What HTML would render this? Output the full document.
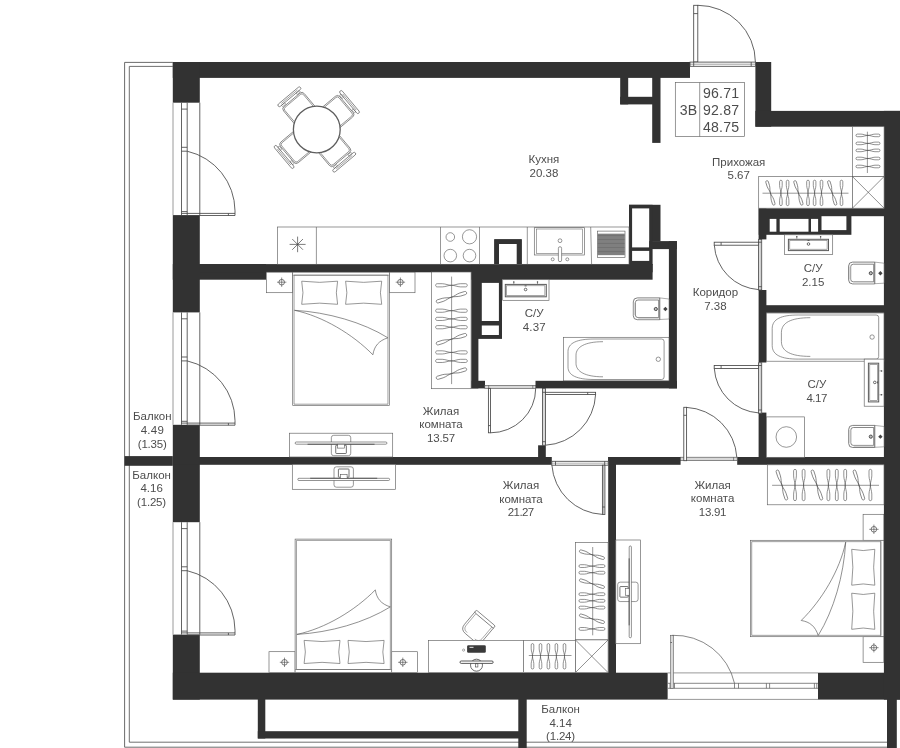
<!DOCTYPE html>
<html><head><meta charset="utf-8"><title>Plan</title>
<style>
html,body{margin:0;padding:0;background:#fff;}
svg{display:block;font-family:"Liberation Sans",sans-serif;filter:grayscale(1);}

</style></head><body>
<svg width="900" height="748" viewBox="0 0 900 748">
<rect x="0" y="0" width="900" height="748" fill="#fff"/>
<path d="M172.8,62.4 H124.6 V747.2 H887" fill="none" stroke="#5a5a5a" stroke-width="0.90" />
<path d="M172.8,66.4 H129.3 V742.2 H887" fill="none" stroke="#606060" stroke-width="0.90" />
<rect x="172.80" y="62.00" width="517.20" height="15.90" fill="#323232" />
<rect x="172.80" y="62.00" width="27.00" height="40.70" fill="#323232" />
<rect x="172.80" y="215.10" width="27.00" height="97.30" fill="#323232" />
<rect x="172.80" y="424.80" width="27.00" height="97.40" fill="#323232" />
<rect x="172.80" y="634.60" width="27.00" height="65.00" fill="#323232" />
<rect x="172.80" y="672.70" width="495.00" height="26.90" fill="#323232" />
<rect x="818.00" y="672.70" width="82.00" height="26.90" fill="#323232" />
<rect x="883.90" y="110.90" width="16.10" height="588.70" fill="#323232" />
<rect x="755.40" y="62.00" width="15.80" height="64.70" fill="#323232" />
<rect x="755.40" y="110.90" width="144.60" height="15.80" fill="#323232" />
<rect x="172.80" y="264.10" width="93.20" height="15.60" fill="#323232" />
<rect x="199.80" y="264.10" width="452.80" height="8.20" fill="#323232" />
<rect x="124.60" y="456.10" width="48.20" height="9.70" fill="#323232" />
<rect x="172.80" y="457.00" width="379.00" height="7.80" fill="#323232" />
<rect x="538.10" y="445.30" width="7.70" height="12.70" fill="#323232" />
<rect x="608.20" y="457.00" width="7.80" height="216.00" fill="#323232" />
<rect x="608.20" y="457.00" width="72.40" height="7.80" fill="#323232" />
<rect x="737.20" y="457.00" width="146.80" height="7.80" fill="#323232" />
<rect x="652.20" y="77.00" width="8.30" height="65.90" fill="#323232" />
<rect x="620.20" y="77.00" width="8.00" height="27.40" fill="#323232" />
<rect x="620.20" y="96.80" width="39.80" height="7.60" fill="#323232" />
<rect x="494.30" y="239.30" width="27.40" height="24.70" fill="#323232" />
<rect x="499.00" y="244.00" width="17.70" height="20.00" fill="#fff" />
<rect x="629.00" y="204.80" width="31.50" height="36.70" fill="#323232" />
<rect x="629.00" y="204.80" width="23.60" height="60.20" fill="#323232" />
<rect x="632.10" y="208.40" width="17.10" height="39.00" fill="#fff" />
<rect x="632.10" y="250.90" width="17.10" height="10.00" fill="#fff" />
<rect x="649.20" y="241.10" width="27.70" height="8.00" fill="#323232" />
<rect x="668.90" y="241.10" width="8.00" height="147.30" fill="#323232" />
<rect x="471.20" y="264.10" width="181.40" height="15.60" fill="#323232" />
<rect x="471.20" y="264.10" width="7.20" height="124.30" fill="#323232" />
<rect x="471.20" y="380.80" width="13.80" height="7.60" fill="#323232" />
<rect x="535.50" y="380.80" width="141.50" height="7.60" fill="#323232" />
<rect x="478.00" y="279.00" width="24.00" height="59.90" fill="#323232" />
<rect x="481.80" y="282.90" width="17.10" height="38.10" fill="#fff" />
<rect x="481.80" y="325.50" width="17.10" height="9.50" fill="#fff" />
<rect x="758.70" y="208.30" width="92.70" height="26.50" fill="#323232" />
<rect x="851.00" y="208.30" width="33.00" height="7.90" fill="#323232" />
<rect x="769.70" y="218.90" width="6.70" height="12.80" fill="#fff" />
<rect x="779.70" y="218.90" width="28.80" height="12.80" fill="#fff" />
<rect x="811.00" y="218.90" width="7.10" height="12.80" fill="#fff" />
<rect x="821.50" y="216.20" width="24.90" height="13.90" fill="#fff" />
<rect x="758.60" y="208.30" width="7.80" height="31.10" fill="#323232" />
<rect x="758.60" y="290.00" width="7.80" height="72.50" fill="#323232" />
<rect x="758.60" y="412.60" width="7.80" height="45.40" fill="#323232" />
<rect x="766.00" y="305.20" width="118.00" height="7.60" fill="#323232" />
<rect x="257.80" y="699.00" width="7.50" height="39.50" fill="#323232" />
<rect x="257.80" y="731.20" width="261.20" height="7.30" fill="#323232" />
<rect x="518.30" y="699.00" width="8.40" height="49.00" fill="#323232" />
<rect x="887.00" y="699.00" width="9.80" height="49.00" fill="#323232" />
<line x1="173.00" y1="102.70" x2="173.00" y2="215.10" stroke="#9a9a9a" stroke-width="1.00"/>
<line x1="199.80" y1="102.70" x2="199.80" y2="215.10" stroke="#484848" stroke-width="0.85"/>
<line x1="181.50" y1="102.70" x2="181.50" y2="215.10" stroke="#484848" stroke-width="0.85"/>
<line x1="187.20" y1="102.70" x2="187.20" y2="215.10" stroke="#484848" stroke-width="0.85"/>
<line x1="181.50" y1="109.10" x2="187.20" y2="109.10" stroke="#484848" stroke-width="0.85"/>
<line x1="181.50" y1="147.30" x2="187.20" y2="147.30" stroke="#484848" stroke-width="0.85"/>
<line x1="181.50" y1="151.20" x2="187.20" y2="151.20" stroke="#484848" stroke-width="0.85"/>
<line x1="181.50" y1="211.60" x2="187.20" y2="211.60" stroke="#484848" stroke-width="0.85"/>
<path d="M187.2,151.20 A61.6,61.6 0 0 1 235,210.80 V215.50" fill="none" stroke="#484848" stroke-width="0.85" />
<line x1="181.50" y1="213.40" x2="235.00" y2="213.40" stroke="#484848" stroke-width="0.85"/>
<line x1="187.20" y1="215.50" x2="235.00" y2="215.50" stroke="#484848" stroke-width="0.85"/>
<line x1="228.40" y1="213.40" x2="228.40" y2="215.50" stroke="#484848" stroke-width="0.85"/>
<line x1="173.00" y1="312.40" x2="173.00" y2="424.80" stroke="#9a9a9a" stroke-width="1.00"/>
<line x1="199.80" y1="312.40" x2="199.80" y2="424.80" stroke="#484848" stroke-width="0.85"/>
<line x1="181.50" y1="312.40" x2="181.50" y2="424.80" stroke="#484848" stroke-width="0.85"/>
<line x1="187.20" y1="312.40" x2="187.20" y2="424.80" stroke="#484848" stroke-width="0.85"/>
<line x1="181.50" y1="318.80" x2="187.20" y2="318.80" stroke="#484848" stroke-width="0.85"/>
<line x1="181.50" y1="357.00" x2="187.20" y2="357.00" stroke="#484848" stroke-width="0.85"/>
<line x1="181.50" y1="360.90" x2="187.20" y2="360.90" stroke="#484848" stroke-width="0.85"/>
<line x1="181.50" y1="421.30" x2="187.20" y2="421.30" stroke="#484848" stroke-width="0.85"/>
<path d="M187.2,360.90 A61.6,61.6 0 0 1 235,420.50 V425.20" fill="none" stroke="#484848" stroke-width="0.85" />
<line x1="181.50" y1="423.10" x2="235.00" y2="423.10" stroke="#484848" stroke-width="0.85"/>
<line x1="187.20" y1="425.20" x2="235.00" y2="425.20" stroke="#484848" stroke-width="0.85"/>
<line x1="228.40" y1="423.10" x2="228.40" y2="425.20" stroke="#484848" stroke-width="0.85"/>
<line x1="173.00" y1="522.20" x2="173.00" y2="634.60" stroke="#9a9a9a" stroke-width="1.00"/>
<line x1="199.80" y1="522.20" x2="199.80" y2="634.60" stroke="#484848" stroke-width="0.85"/>
<line x1="181.50" y1="522.20" x2="181.50" y2="634.60" stroke="#484848" stroke-width="0.85"/>
<line x1="187.20" y1="522.20" x2="187.20" y2="634.60" stroke="#484848" stroke-width="0.85"/>
<line x1="181.50" y1="528.60" x2="187.20" y2="528.60" stroke="#484848" stroke-width="0.85"/>
<line x1="181.50" y1="566.80" x2="187.20" y2="566.80" stroke="#484848" stroke-width="0.85"/>
<line x1="181.50" y1="570.70" x2="187.20" y2="570.70" stroke="#484848" stroke-width="0.85"/>
<line x1="181.50" y1="631.10" x2="187.20" y2="631.10" stroke="#484848" stroke-width="0.85"/>
<path d="M187.2,570.70 A61.6,61.6 0 0 1 235,630.30 V635.00" fill="none" stroke="#484848" stroke-width="0.85" />
<line x1="181.50" y1="632.90" x2="235.00" y2="632.90" stroke="#484848" stroke-width="0.85"/>
<line x1="187.20" y1="635.00" x2="235.00" y2="635.00" stroke="#484848" stroke-width="0.85"/>
<line x1="228.40" y1="632.90" x2="228.40" y2="635.00" stroke="#484848" stroke-width="0.85"/>
<rect x="693.70" y="5.30" width="4.10" height="56.70" fill="#fff" stroke="#484848" stroke-width="0.85" />
<line x1="693.70" y1="13.60" x2="697.80" y2="13.60" stroke="#484848" stroke-width="0.85"/>
<path d="M697.8,5.3 A57.6,56.9 0 0 1 755.4,62.2" fill="none" stroke="#484848" stroke-width="0.85" />
<rect x="690.00" y="62.10" width="65.40" height="4.20" fill="#fff" stroke="#484848" stroke-width="0.85" />
<line x1="690.00" y1="64.20" x2="755.40" y2="64.20" stroke="#606060" stroke-width="0.60"/>
<line x1="693.70" y1="62.00" x2="693.70" y2="66.30" stroke="#484848" stroke-width="0.85"/>
<line x1="751.20" y1="62.00" x2="751.20" y2="66.30" stroke="#484848" stroke-width="0.85"/>
<rect x="675.30" y="82.50" width="69.20" height="54.00" fill="#fff" stroke="#606060" stroke-width="0.65" />
<line x1="699.70" y1="82.50" x2="699.70" y2="136.50" stroke="#606060" stroke-width="0.65"/>
<text x="688.60" y="114.60" font-size="14.10" text-anchor="middle" fill="#4d4d4d" letter-spacing="0.20">3В</text>
<text x="721.10" y="97.60" font-size="14.10" text-anchor="middle" fill="#4d4d4d" letter-spacing="0.20">96.71</text>
<text x="721.10" y="114.60" font-size="14.10" text-anchor="middle" fill="#4d4d4d" letter-spacing="0.20">92.87</text>
<text x="721.10" y="131.50" font-size="14.10" text-anchor="middle" fill="#4d4d4d" letter-spacing="0.20">48.75</text>
<rect x="277.40" y="227.00" width="351.60" height="37.30" fill="none" stroke="#606060" stroke-width="0.65" />
<line x1="316.40" y1="227.00" x2="316.40" y2="264.30" stroke="#606060" stroke-width="0.65"/>
<line x1="440.50" y1="227.00" x2="440.50" y2="264.30" stroke="#606060" stroke-width="0.65"/>
<line x1="479.50" y1="227.00" x2="479.50" y2="264.30" stroke="#606060" stroke-width="0.65"/>
<line x1="527.30" y1="227.00" x2="527.30" y2="264.30" stroke="#606060" stroke-width="0.65"/>
<line x1="590.70" y1="227.00" x2="591.60" y2="264.30" stroke="#606060" stroke-width="0.65"/>
<rect x="494.30" y="239.30" width="27.40" height="24.70" fill="#323232" />
<rect x="499.00" y="244.00" width="17.70" height="20.00" fill="#fff" />
<line x1="289.60" y1="244.40" x2="305.60" y2="244.40" stroke="#444" stroke-width="0.70"/>
<line x1="297.60" y1="236.60" x2="297.60" y2="252.20" stroke="#444" stroke-width="0.70"/>
<line x1="292.23" y1="239.03" x2="302.97" y2="249.77" stroke="#444" stroke-width="0.70"/>
<line x1="302.97" y1="239.03" x2="292.23" y2="249.77" stroke="#444" stroke-width="0.70"/>
<circle cx="450.30" cy="237.00" r="4.30" fill="none" stroke="#606060" stroke-width="0.65"/>
<circle cx="469.50" cy="236.80" r="7.10" fill="none" stroke="#606060" stroke-width="0.65"/>
<circle cx="450.30" cy="255.60" r="6.30" fill="none" stroke="#606060" stroke-width="0.65"/>
<circle cx="469.50" cy="255.60" r="6.30" fill="none" stroke="#606060" stroke-width="0.65"/>
<rect x="534.30" y="227.70" width="50.20" height="27.30" fill="none" stroke="#606060" stroke-width="0.65" />
<rect x="536.30" y="229.00" width="46.40" height="24.30" fill="none" stroke="#606060" stroke-width="0.55" />
<circle cx="560.00" cy="240.70" r="1.90" fill="none" stroke="#606060" stroke-width="0.65"/>
<rect x="558.40" y="246.70" width="3.20" height="15.00" rx="1.60" fill="#fff" stroke="#606060" stroke-width="0.65" />
<circle cx="552.70" cy="259.30" r="1.50" fill="none" stroke="#606060" stroke-width="0.65"/>
<circle cx="567.30" cy="259.30" r="1.50" fill="none" stroke="#606060" stroke-width="0.65"/>
<rect x="597.40" y="231.10" width="27.60" height="26.50" fill="#fff" stroke="#606060" stroke-width="0.65" />
<rect x="597.60" y="233.80" width="27.20" height="21.40" fill="#9a9a9a" />
<line x1="597.60" y1="234.20" x2="624.80" y2="234.20" stroke="#404040" stroke-width="0.45"/>
<line x1="597.60" y1="235.53" x2="624.80" y2="235.53" stroke="#404040" stroke-width="0.45"/>
<line x1="597.60" y1="236.86" x2="624.80" y2="236.86" stroke="#404040" stroke-width="0.45"/>
<line x1="597.60" y1="238.19" x2="624.80" y2="238.19" stroke="#404040" stroke-width="0.45"/>
<line x1="597.60" y1="239.52" x2="624.80" y2="239.52" stroke="#404040" stroke-width="0.45"/>
<line x1="597.60" y1="240.85" x2="624.80" y2="240.85" stroke="#404040" stroke-width="0.45"/>
<line x1="597.60" y1="242.18" x2="624.80" y2="242.18" stroke="#404040" stroke-width="0.45"/>
<line x1="597.60" y1="243.51" x2="624.80" y2="243.51" stroke="#404040" stroke-width="0.45"/>
<line x1="597.60" y1="244.84" x2="624.80" y2="244.84" stroke="#404040" stroke-width="0.45"/>
<line x1="597.60" y1="246.17" x2="624.80" y2="246.17" stroke="#404040" stroke-width="0.45"/>
<line x1="597.60" y1="247.50" x2="624.80" y2="247.50" stroke="#404040" stroke-width="0.45"/>
<line x1="597.60" y1="248.83" x2="624.80" y2="248.83" stroke="#404040" stroke-width="0.45"/>
<line x1="597.60" y1="250.16" x2="624.80" y2="250.16" stroke="#404040" stroke-width="0.45"/>
<line x1="597.60" y1="251.49" x2="624.80" y2="251.49" stroke="#404040" stroke-width="0.45"/>
<line x1="597.60" y1="252.82" x2="624.80" y2="252.82" stroke="#404040" stroke-width="0.45"/>
<line x1="597.60" y1="254.15" x2="624.80" y2="254.15" stroke="#404040" stroke-width="0.45"/>
<g transform="translate(316.80,129.50) rotate(-40.00)">
<rect x="10.00" y="-13.50" width="28.70" height="27.00" rx="3.20" fill="#fff" stroke="#555" stroke-width="0.65" />
<rect x="10.00" y="-12.20" width="27.40" height="24.40" rx="2.20" fill="none" stroke="#5a5a5a" stroke-width="0.60" />
<rect x="41.20" y="-14.50" width="3.00" height="29.00" rx="1.50" fill="#fff" stroke="#555" stroke-width="0.65" />
<line x1="42.70" y1="-10.50" x2="42.70" y2="10.50" stroke="#555" stroke-width="0.50"/>
<rect x="39.40" y="-11.50" width="1.80" height="4.00" fill="none" stroke="#555" stroke-width="0.45" />
<rect x="39.40" y="7.50" width="1.80" height="4.00" fill="none" stroke="#555" stroke-width="0.45" />
</g>
<g transform="translate(316.80,129.50) rotate(50.00)">
<rect x="10.00" y="-13.50" width="28.70" height="27.00" rx="3.20" fill="#fff" stroke="#555" stroke-width="0.65" />
<rect x="10.00" y="-12.20" width="27.40" height="24.40" rx="2.20" fill="none" stroke="#5a5a5a" stroke-width="0.60" />
<rect x="41.20" y="-14.50" width="3.00" height="29.00" rx="1.50" fill="#fff" stroke="#555" stroke-width="0.65" />
<line x1="42.70" y1="-10.50" x2="42.70" y2="10.50" stroke="#555" stroke-width="0.50"/>
<rect x="39.40" y="-11.50" width="1.80" height="4.00" fill="none" stroke="#555" stroke-width="0.45" />
<rect x="39.40" y="7.50" width="1.80" height="4.00" fill="none" stroke="#555" stroke-width="0.45" />
</g>
<g transform="translate(316.80,129.50) rotate(140.00)">
<rect x="10.00" y="-13.50" width="28.70" height="27.00" rx="3.20" fill="#fff" stroke="#555" stroke-width="0.65" />
<rect x="10.00" y="-12.20" width="27.40" height="24.40" rx="2.20" fill="none" stroke="#5a5a5a" stroke-width="0.60" />
<rect x="41.20" y="-14.50" width="3.00" height="29.00" rx="1.50" fill="#fff" stroke="#555" stroke-width="0.65" />
<line x1="42.70" y1="-10.50" x2="42.70" y2="10.50" stroke="#555" stroke-width="0.50"/>
<rect x="39.40" y="-11.50" width="1.80" height="4.00" fill="none" stroke="#555" stroke-width="0.45" />
<rect x="39.40" y="7.50" width="1.80" height="4.00" fill="none" stroke="#555" stroke-width="0.45" />
</g>
<g transform="translate(316.80,129.50) rotate(230.00)">
<rect x="10.00" y="-13.50" width="28.70" height="27.00" rx="3.20" fill="#fff" stroke="#555" stroke-width="0.65" />
<rect x="10.00" y="-12.20" width="27.40" height="24.40" rx="2.20" fill="none" stroke="#5a5a5a" stroke-width="0.60" />
<rect x="41.20" y="-14.50" width="3.00" height="29.00" rx="1.50" fill="#fff" stroke="#555" stroke-width="0.65" />
<line x1="42.70" y1="-10.50" x2="42.70" y2="10.50" stroke="#555" stroke-width="0.50"/>
<rect x="39.40" y="-11.50" width="1.80" height="4.00" fill="none" stroke="#555" stroke-width="0.45" />
<rect x="39.40" y="7.50" width="1.80" height="4.00" fill="none" stroke="#555" stroke-width="0.45" />
</g>
<circle cx="316.80" cy="129.50" r="23.40" fill="#fff" stroke="#5e5e5e" stroke-width="1.30"/>
<rect x="266.60" y="272.20" width="26.10" height="20.50" fill="#fff" stroke="#606060" stroke-width="0.65" />
<circle cx="281.70" cy="282.20" r="2.80" fill="none" stroke="#444" stroke-width="0.70"/>
<line x1="277.00" y1="282.20" x2="286.40" y2="282.20" stroke="#444" stroke-width="0.60"/>
<line x1="281.70" y1="277.50" x2="281.70" y2="286.90" stroke="#444" stroke-width="0.60"/>
<rect x="389.30" y="272.20" width="25.70" height="20.50" fill="#fff" stroke="#606060" stroke-width="0.65" />
<circle cx="400.40" cy="282.20" r="2.80" fill="none" stroke="#444" stroke-width="0.70"/>
<line x1="395.70" y1="282.20" x2="405.10" y2="282.20" stroke="#444" stroke-width="0.60"/>
<line x1="400.40" y1="277.50" x2="400.40" y2="286.90" stroke="#444" stroke-width="0.60"/>
<g transform="translate(292.70,272.20)">
<rect x="0.00" y="0.00" width="96.60" height="133.30" fill="#fff" stroke="#606060" stroke-width="0.65" />
<path d="M1.35,3 V132.00 H95.25 V3 Z" fill="none" stroke="#606060" stroke-width="0.60" />
<line x1="0.00" y1="3.00" x2="96.60" y2="3.00" stroke="#606060" stroke-width="0.55"/>
<path d="M9.00,9.00 Q26.95,11.31 44.90,9.00 Q42.39,20.55 44.90,32.10 Q26.95,29.79 9.00,32.10 Q11.51,20.55 9.00,9.00 Z" fill="#fff" stroke="#606060" stroke-width="0.65" />
<path d="M52.90,9.00 Q70.95,11.31 89.00,9.00 Q86.47,20.55 89.00,32.10 Q70.95,29.79 52.90,32.10 Q55.43,20.55 52.90,9.00 Z" fill="#fff" stroke="#606060" stroke-width="0.65" />
<path d="M1.8,38.1 C35,40 70,50 95.2,65.6 C86,68.5 81.5,74 80.2,82.6 C60,62 30,44 1.8,38.1 Z" fill="#fff" stroke="#555" stroke-width="0.65" />
</g>
<rect x="431.40" y="272.00" width="39.70" height="116.70" fill="#fff" stroke="#606060" stroke-width="0.65" />
<line x1="451.60" y1="276.60" x2="451.60" y2="384.10" stroke="#606060" stroke-width="0.65"/>
<path transform="translate(451.45,285.30) rotate(0.00)" d="M0,0 C3.48,0 5.37,-1.44 9.16,-1.60 L14.20,-1.60 C16.36,-1.60 16.36,1.60 14.20,1.60 L9.16,1.60 C5.37,1.44 3.48,0 0,0 M0,0 C-3.48,0 -5.37,-1.44 -9.16,-1.60 L-14.20,-1.60 C-16.36,-1.60 -16.36,1.60 -14.20,1.60 L-9.16,1.60 C-5.37,1.44 -3.48,0 0,0" fill="none" stroke="#4a4a4a" stroke-width="0.6"/>
<path transform="translate(451.45,297.20) rotate(-17.00)" d="M0,0 C3.48,0 5.37,-1.44 9.16,-1.60 L14.20,-1.60 C16.36,-1.60 16.36,1.60 14.20,1.60 L9.16,1.60 C5.37,1.44 3.48,0 0,0 M0,0 C-3.48,0 -5.37,-1.44 -9.16,-1.60 L-14.20,-1.60 C-16.36,-1.60 -16.36,1.60 -14.20,1.60 L-9.16,1.60 C-5.37,1.44 -3.48,0 0,0" fill="none" stroke="#4a4a4a" stroke-width="0.6"/>
<path transform="translate(451.45,310.70) rotate(0.00)" d="M0,0 C3.48,0 5.37,-1.44 9.16,-1.60 L14.20,-1.60 C16.36,-1.60 16.36,1.60 14.20,1.60 L9.16,1.60 C5.37,1.44 3.48,0 0,0 M0,0 C-3.48,0 -5.37,-1.44 -9.16,-1.60 L-14.20,-1.60 C-16.36,-1.60 -16.36,1.60 -14.20,1.60 L-9.16,1.60 C-5.37,1.44 -3.48,0 0,0" fill="none" stroke="#4a4a4a" stroke-width="0.6"/>
<path transform="translate(451.45,318.90) rotate(0.00)" d="M0,0 C3.48,0 5.37,-1.44 9.16,-1.60 L14.20,-1.60 C16.36,-1.60 16.36,1.60 14.20,1.60 L9.16,1.60 C5.37,1.44 3.48,0 0,0 M0,0 C-3.48,0 -5.37,-1.44 -9.16,-1.60 L-14.20,-1.60 C-16.36,-1.60 -16.36,1.60 -14.20,1.60 L-9.16,1.60 C-5.37,1.44 -3.48,0 0,0" fill="none" stroke="#4a4a4a" stroke-width="0.6"/>
<path transform="translate(451.45,327.20) rotate(0.00)" d="M0,0 C3.48,0 5.37,-1.44 9.16,-1.60 L14.20,-1.60 C16.36,-1.60 16.36,1.60 14.20,1.60 L9.16,1.60 C5.37,1.44 3.48,0 0,0 M0,0 C-3.48,0 -5.37,-1.44 -9.16,-1.60 L-14.20,-1.60 C-16.36,-1.60 -16.36,1.60 -14.20,1.60 L-9.16,1.60 C-5.37,1.44 -3.48,0 0,0" fill="none" stroke="#4a4a4a" stroke-width="0.6"/>
<path transform="translate(451.45,339.20) rotate(-17.00)" d="M0,0 C3.48,0 5.37,-1.44 9.16,-1.60 L14.20,-1.60 C16.36,-1.60 16.36,1.60 14.20,1.60 L9.16,1.60 C5.37,1.44 3.48,0 0,0 M0,0 C-3.48,0 -5.37,-1.44 -9.16,-1.60 L-14.20,-1.60 C-16.36,-1.60 -16.36,1.60 -14.20,1.60 L-9.16,1.60 C-5.37,1.44 -3.48,0 0,0" fill="none" stroke="#4a4a4a" stroke-width="0.6"/>
<path transform="translate(451.45,352.40) rotate(0.00)" d="M0,0 C3.48,0 5.37,-1.44 9.16,-1.60 L14.20,-1.60 C16.36,-1.60 16.36,1.60 14.20,1.60 L9.16,1.60 C5.37,1.44 3.48,0 0,0 M0,0 C-3.48,0 -5.37,-1.44 -9.16,-1.60 L-14.20,-1.60 C-16.36,-1.60 -16.36,1.60 -14.20,1.60 L-9.16,1.60 C-5.37,1.44 -3.48,0 0,0" fill="none" stroke="#4a4a4a" stroke-width="0.6"/>
<path transform="translate(451.45,360.90) rotate(0.00)" d="M0,0 C3.48,0 5.37,-1.44 9.16,-1.60 L14.20,-1.60 C16.36,-1.60 16.36,1.60 14.20,1.60 L9.16,1.60 C5.37,1.44 3.48,0 0,0 M0,0 C-3.48,0 -5.37,-1.44 -9.16,-1.60 L-14.20,-1.60 C-16.36,-1.60 -16.36,1.60 -14.20,1.60 L-9.16,1.60 C-5.37,1.44 -3.48,0 0,0" fill="none" stroke="#4a4a4a" stroke-width="0.6"/>
<path transform="translate(451.45,373.60) rotate(-17.00)" d="M0,0 C3.48,0 5.37,-1.44 9.16,-1.60 L14.20,-1.60 C16.36,-1.60 16.36,1.60 14.20,1.60 L9.16,1.60 C5.37,1.44 3.48,0 0,0 M0,0 C-3.48,0 -5.37,-1.44 -9.16,-1.60 L-14.20,-1.60 C-16.36,-1.60 -16.36,1.60 -14.20,1.60 L-9.16,1.60 C-5.37,1.44 -3.48,0 0,0" fill="none" stroke="#4a4a4a" stroke-width="0.6"/>
<rect x="289.40" y="433.20" width="103.30" height="23.80" fill="#fff" stroke="#606060" stroke-width="0.65" />
<g transform="translate(341.05,443.1)">
<rect x="-9.70" y="-7.80" width="19.40" height="20.40" rx="2.40" fill="#fff" stroke="#606060" stroke-width="0.65" />
<rect x="-45.90" y="-1.10" width="91.80" height="2.20" rx="1.10" fill="#fff" stroke="#4a4a4a" stroke-width="0.60" />
<line x1="-33.50" y1="1.15" x2="33.50" y2="1.15" stroke="#444" stroke-width="0.80"/>
<rect x="-5.30" y="2.20" width="10.60" height="8.20" rx="0.60" fill="#fff" stroke="#444" stroke-width="0.75" />
<rect x="-3.40" y="1.10" width="6.80" height="3.90" fill="#fff" stroke="#555" stroke-width="0.60" />
</g>
<rect x="292.30" y="464.50" width="103.30" height="24.80" fill="#fff" stroke="#606060" stroke-width="0.65" />
<g transform="translate(343.7,479.4) scale(1,-1)">
<rect x="-9.70" y="-7.80" width="19.40" height="20.40" rx="2.40" fill="#fff" stroke="#606060" stroke-width="0.65" />
<rect x="-45.90" y="-1.10" width="91.80" height="2.20" rx="1.10" fill="#fff" stroke="#4a4a4a" stroke-width="0.60" />
<line x1="-33.50" y1="1.15" x2="33.50" y2="1.15" stroke="#444" stroke-width="0.80"/>
<rect x="-5.30" y="2.20" width="10.60" height="8.20" rx="0.60" fill="#fff" stroke="#444" stroke-width="0.75" />
<rect x="-3.40" y="1.10" width="6.80" height="3.90" fill="#fff" stroke="#555" stroke-width="0.60" />
</g>
<rect x="502.70" y="279.70" width="46.30" height="20.60" fill="#fff" stroke="#606060" stroke-width="0.65" />
<rect x="505.30" y="284.40" width="41.00" height="12.40" fill="#fff" stroke="#5a5a5a" stroke-width="1.00" />
<rect x="506.70" y="285.80" width="38.20" height="9.60" fill="none" stroke="#606060" stroke-width="0.55" />
<circle cx="525.60" cy="289.50" r="1.30" fill="none" stroke="#444" stroke-width="0.80"/>
<line x1="524.60" y1="285.90" x2="526.60" y2="285.90" stroke="#444" stroke-width="0.80"/>
<circle cx="513.80" cy="281.90" r="0.75" fill="#444" stroke="none" stroke-width="0.00"/>
<line x1="513.80" y1="281.90" x2="513.80" y2="284.00" stroke="#555" stroke-width="0.60"/>
<circle cx="537.50" cy="281.90" r="0.75" fill="#444" stroke="none" stroke-width="0.00"/>
<line x1="537.50" y1="281.90" x2="537.50" y2="284.00" stroke="#555" stroke-width="0.60"/>
<path d="M659.70,297.90 L669.00,299.00 V319.00 L659.70,319.50 Z" fill="#fff" stroke="#777" stroke-width="0.60" />
<path d="M659.70,297.90 H637.30 Q633.30,297.90 633.30,301.90 V315.70 Q633.30,319.70 637.30,319.70 H659.70 Z" fill="#fff" stroke="#555" stroke-width="0.75" />
<path d="M658.70,300.00 H638.00 Q635.40,300.00 635.40,302.60 V315.00 Q635.40,317.60 638.00,317.60 H658.70 Z" fill="none" stroke="#555" stroke-width="0.70" />
<line x1="634.35" y1="302.40" x2="634.35" y2="315.20" stroke="#d4d4d4" stroke-width="1.20"/>
<line x1="638.30" y1="318.60" x2="658.70" y2="318.60" stroke="#d4d4d4" stroke-width="1.20"/>
<circle cx="655.80" cy="309.00" r="1.60" fill="#bbb" stroke="#444" stroke-width="0.90"/>
<path d="M663.20,309.00 l2.2,-2.2 l2.2,2.2 l-2.2,2.2 Z" fill="#444" stroke="none" stroke-width="0.00" />
<rect x="563.40" y="337.30" width="105.60" height="43.50" fill="#fff" stroke="#606060" stroke-width="0.65" />
<path d="M594.00,339.00 H661.60 Q664.10,339.00 664.10,341.50 V377.00 Q664.10,379.50 661.60,379.50 H594.00 C577.00,379.50 568.00,375.50 568.00,366.94 V351.56 C568.00,343.00 577.00,339.00 594.00,339.00 Z" fill="#fff" stroke="#606060" stroke-width="0.65" />
<path d="M603.00,341.70 C585.00,341.70 576.00,347.00 576.00,355.20 V363.30 C576.00,371.50 585.00,376.80 603.00,376.80" fill="none" stroke="#606060" stroke-width="0.65" />
<circle cx="658.30" cy="359.25" r="2.20" fill="none" stroke="#606060" stroke-width="0.65"/>
<rect x="484.80" y="385.40" width="50.90" height="3.00" fill="#d8d8d8" stroke="#484848" stroke-width="0.60" />
<line x1="488.70" y1="385.40" x2="488.70" y2="388.40" stroke="#484848" stroke-width="0.60"/>
<line x1="532.80" y1="385.40" x2="532.80" y2="388.40" stroke="#484848" stroke-width="0.60"/>
<rect x="488.40" y="388.40" width="2.10" height="44.40" fill="#fff" stroke="#484848" stroke-width="0.85" />
<line x1="488.40" y1="425.60" x2="490.50" y2="425.60" stroke="#484848" stroke-width="0.85"/>
<path d="M490.5,432.8 A45.2,44.4 0 0 0 535.7,388.4" fill="none" stroke="#484848" stroke-width="0.85" />
<rect x="542.50" y="388.40" width="3.00" height="56.90" fill="#fff" stroke="#484848" stroke-width="0.85" />
<line x1="544.00" y1="388.40" x2="544.00" y2="445.30" stroke="#606060" stroke-width="0.50"/>
<line x1="542.50" y1="392.30" x2="545.50" y2="392.30" stroke="#484848" stroke-width="0.85"/>
<line x1="542.50" y1="441.70" x2="545.50" y2="441.70" stroke="#484848" stroke-width="0.85"/>
<rect x="545.50" y="392.30" width="50.10" height="2.20" fill="#fff" stroke="#484848" stroke-width="0.85" />
<line x1="587.70" y1="392.30" x2="587.70" y2="394.50" stroke="#484848" stroke-width="0.85"/>
<path d="M595.6,394.5 A53.1,53.1 0 0 1 545.5,445.2" fill="none" stroke="#484848" stroke-width="0.85" />
<rect x="758.60" y="239.40" width="3.10" height="50.60" fill="#fff" stroke="#484848" stroke-width="0.85" />
<line x1="760.10" y1="239.40" x2="760.10" y2="290.00" stroke="#606060" stroke-width="0.50"/>
<line x1="758.60" y1="242.20" x2="761.70" y2="242.20" stroke="#484848" stroke-width="0.85"/>
<line x1="758.60" y1="286.70" x2="761.70" y2="286.70" stroke="#484848" stroke-width="0.85"/>
<rect x="714.20" y="242.20" width="44.40" height="3.00" fill="#fff" stroke="#484848" stroke-width="0.85" />
<line x1="721.10" y1="242.20" x2="721.10" y2="245.20" stroke="#484848" stroke-width="0.85"/>
<path d="M714.3,245.20 A47.5,47.5 0 0 0 758.6,289.60" fill="none" stroke="#484848" stroke-width="0.85" />
<rect x="758.60" y="362.70" width="3.10" height="50.60" fill="#fff" stroke="#484848" stroke-width="0.85" />
<line x1="760.10" y1="362.70" x2="760.10" y2="413.30" stroke="#606060" stroke-width="0.50"/>
<line x1="758.60" y1="365.50" x2="761.70" y2="365.50" stroke="#484848" stroke-width="0.85"/>
<line x1="758.60" y1="410.00" x2="761.70" y2="410.00" stroke="#484848" stroke-width="0.85"/>
<rect x="714.20" y="365.50" width="44.40" height="3.00" fill="#fff" stroke="#484848" stroke-width="0.85" />
<line x1="721.10" y1="365.50" x2="721.10" y2="368.50" stroke="#484848" stroke-width="0.85"/>
<path d="M714.3,368.50 A47.5,47.5 0 0 0 758.6,412.90" fill="none" stroke="#484848" stroke-width="0.85" />
<rect x="784.60" y="234.80" width="48.10" height="19.70" fill="#fff" stroke="#606060" stroke-width="0.65" />
<rect x="788.40" y="239.30" width="40.10" height="11.30" fill="#fff" stroke="#5a5a5a" stroke-width="1.00" />
<rect x="789.80" y="240.70" width="37.30" height="8.50" fill="none" stroke="#606060" stroke-width="0.55" />
<circle cx="808.50" cy="244.00" r="1.30" fill="none" stroke="#444" stroke-width="0.80"/>
<line x1="807.50" y1="240.50" x2="809.50" y2="240.50" stroke="#444" stroke-width="0.80"/>
<circle cx="796.80" cy="236.80" r="0.75" fill="#444" stroke="none" stroke-width="0.00"/>
<line x1="796.80" y1="236.80" x2="796.80" y2="238.80" stroke="#555" stroke-width="0.60"/>
<circle cx="820.60" cy="236.80" r="0.75" fill="#444" stroke="none" stroke-width="0.00"/>
<line x1="820.60" y1="236.80" x2="820.60" y2="238.80" stroke="#555" stroke-width="0.60"/>
<path d="M874.70,262.10 L884.00,263.20 V283.20 L874.70,283.70 Z" fill="#fff" stroke="#777" stroke-width="0.60" />
<path d="M874.70,262.10 H852.60 Q848.60,262.10 848.60,266.10 V279.90 Q848.60,283.90 852.60,283.90 H874.70 Z" fill="#fff" stroke="#555" stroke-width="0.75" />
<path d="M873.70,264.20 H853.30 Q850.70,264.20 850.70,266.80 V279.20 Q850.70,281.80 853.30,281.80 H873.70 Z" fill="none" stroke="#555" stroke-width="0.70" />
<line x1="849.65" y1="266.60" x2="849.65" y2="279.40" stroke="#d4d4d4" stroke-width="1.20"/>
<line x1="853.60" y1="282.80" x2="873.70" y2="282.80" stroke="#d4d4d4" stroke-width="1.20"/>
<circle cx="870.80" cy="273.20" r="1.60" fill="#bbb" stroke="#444" stroke-width="0.90"/>
<path d="M878.20,273.20 l2.2,-2.2 l2.2,2.2 l-2.2,2.2 Z" fill="#444" stroke="none" stroke-width="0.00" />
<rect x="766.40" y="313.00" width="117.60" height="48.20" fill="#fff" stroke="#606060" stroke-width="0.65" />
<path d="M798.20,315.00 H876.20 Q878.70,315.00 878.70,317.50 V356.60 Q878.70,359.10 876.20,359.10 H798.20 C781.20,359.10 772.20,355.10 772.20,345.43 V328.67 C772.20,319.00 781.20,315.00 798.20,315.00 Z" fill="#fff" stroke="#606060" stroke-width="0.65" />
<path d="M810.30,317.70 C790.40,317.70 781.40,323.00 781.40,332.64 V341.46 C781.40,351.10 790.40,356.40 810.30,356.40" fill="none" stroke="#606060" stroke-width="0.65" />
<circle cx="872.10" cy="337.05" r="2.20" fill="none" stroke="#606060" stroke-width="0.65"/>
<rect x="864.20" y="359.10" width="19.80" height="47.10" fill="#fff" stroke="#606060" stroke-width="0.65" />
<rect x="868.40" y="363.20" width="10.30" height="38.70" fill="#fff" stroke="#5a5a5a" stroke-width="1.00" />
<rect x="869.80" y="364.60" width="7.50" height="35.90" fill="none" stroke="#606060" stroke-width="0.55" />
<circle cx="874.80" cy="382.40" r="1.30" fill="none" stroke="#444" stroke-width="0.80"/>
<line x1="877.60" y1="381.40" x2="877.60" y2="383.40" stroke="#444" stroke-width="0.80"/>
<circle cx="881.60" cy="370.90" r="0.75" fill="#444" stroke="none" stroke-width="0.00"/>
<line x1="879.60" y1="370.90" x2="881.60" y2="370.90" stroke="#555" stroke-width="0.60"/>
<circle cx="881.60" cy="394.80" r="0.75" fill="#444" stroke="none" stroke-width="0.00"/>
<line x1="879.60" y1="394.80" x2="881.60" y2="394.80" stroke="#555" stroke-width="0.60"/>
<path d="M874.70,425.40 L884.00,426.50 V446.80 L874.70,447.30 Z" fill="#fff" stroke="#777" stroke-width="0.60" />
<path d="M874.70,425.40 H852.70 Q848.70,425.40 848.70,429.40 V443.50 Q848.70,447.50 852.70,447.50 H874.70 Z" fill="#fff" stroke="#555" stroke-width="0.75" />
<path d="M873.70,427.50 H853.40 Q850.80,427.50 850.80,430.10 V442.80 Q850.80,445.40 853.40,445.40 H873.70 Z" fill="none" stroke="#555" stroke-width="0.70" />
<line x1="849.75" y1="429.90" x2="849.75" y2="443.00" stroke="#d4d4d4" stroke-width="1.20"/>
<line x1="853.70" y1="446.40" x2="873.70" y2="446.40" stroke="#d4d4d4" stroke-width="1.20"/>
<circle cx="870.80" cy="436.65" r="1.60" fill="#bbb" stroke="#444" stroke-width="0.90"/>
<path d="M878.20,436.65 l2.2,-2.2 l2.2,2.2 l-2.2,2.2 Z" fill="#444" stroke="none" stroke-width="0.00" />
<rect x="766.40" y="416.90" width="38.10" height="40.40" fill="#fff" stroke="#606060" stroke-width="0.65" />
<circle cx="786.30" cy="437.00" r="10.30" fill="none" stroke="#606060" stroke-width="0.65"/>
<rect x="680.60" y="457.20" width="56.60" height="3.50" fill="#d8d8d8" stroke="#484848" stroke-width="0.60" />
<line x1="684.60" y1="457.20" x2="684.60" y2="460.70" stroke="#484848" stroke-width="0.60"/>
<line x1="733.60" y1="457.20" x2="733.60" y2="460.70" stroke="#484848" stroke-width="0.60"/>
<rect x="683.80" y="407.30" width="2.80" height="53.40" fill="#fff" stroke="#484848" stroke-width="0.85" />
<line x1="683.80" y1="415.30" x2="686.60" y2="415.30" stroke="#484848" stroke-width="0.85"/>
<path d="M686.6,407.4 A53.1,53.1 0 0 1 736.8,457.2" fill="none" stroke="#484848" stroke-width="0.85" />
<rect x="852.40" y="126.70" width="31.70" height="49.80" fill="#fff" stroke="#606060" stroke-width="0.65" />
<line x1="867.40" y1="131.70" x2="867.40" y2="173.00" stroke="#606060" stroke-width="0.65"/>
<path transform="translate(868.00,135.40) rotate(0.00)" d="M0,0 C2.64,0 4.08,-1.17 6.96,-1.30 L10.70,-1.30 C12.46,-1.30 12.46,1.30 10.70,1.30 L6.96,1.30 C4.08,1.17 2.64,0 0,0 M0,0 C-2.64,0 -4.08,-1.17 -6.96,-1.30 L-10.70,-1.30 C-12.46,-1.30 -12.46,1.30 -10.70,1.30 L-6.96,1.30 C-4.08,1.17 -2.64,0 0,0" fill="none" stroke="#4a4a4a" stroke-width="0.6"/>
<path transform="translate(868.00,143.40) rotate(0.00)" d="M0,0 C2.64,0 4.08,-1.17 6.96,-1.30 L10.70,-1.30 C12.46,-1.30 12.46,1.30 10.70,1.30 L6.96,1.30 C4.08,1.17 2.64,0 0,0 M0,0 C-2.64,0 -4.08,-1.17 -6.96,-1.30 L-10.70,-1.30 C-12.46,-1.30 -12.46,1.30 -10.70,1.30 L-6.96,1.30 C-4.08,1.17 -2.64,0 0,0" fill="none" stroke="#4a4a4a" stroke-width="0.6"/>
<path transform="translate(868.00,150.40) rotate(0.00)" d="M0,0 C2.64,0 4.08,-1.17 6.96,-1.30 L10.70,-1.30 C12.46,-1.30 12.46,1.30 10.70,1.30 L6.96,1.30 C4.08,1.17 2.64,0 0,0 M0,0 C-2.64,0 -4.08,-1.17 -6.96,-1.30 L-10.70,-1.30 C-12.46,-1.30 -12.46,1.30 -10.70,1.30 L-6.96,1.30 C-4.08,1.17 -2.64,0 0,0" fill="none" stroke="#4a4a4a" stroke-width="0.6"/>
<path transform="translate(868.00,158.50) rotate(0.00)" d="M0,0 C2.64,0 4.08,-1.17 6.96,-1.30 L10.70,-1.30 C12.46,-1.30 12.46,1.30 10.70,1.30 L6.96,1.30 C4.08,1.17 2.64,0 0,0 M0,0 C-2.64,0 -4.08,-1.17 -6.96,-1.30 L-10.70,-1.30 C-12.46,-1.30 -12.46,1.30 -10.70,1.30 L-6.96,1.30 C-4.08,1.17 -2.64,0 0,0" fill="none" stroke="#4a4a4a" stroke-width="0.6"/>
<path transform="translate(868.00,166.50) rotate(0.00)" d="M0,0 C2.64,0 4.08,-1.17 6.96,-1.30 L10.70,-1.30 C12.46,-1.30 12.46,1.30 10.70,1.30 L6.96,1.30 C4.08,1.17 2.64,0 0,0 M0,0 C-2.64,0 -4.08,-1.17 -6.96,-1.30 L-10.70,-1.30 C-12.46,-1.30 -12.46,1.30 -10.70,1.30 L-6.96,1.30 C-4.08,1.17 -2.64,0 0,0" fill="none" stroke="#4a4a4a" stroke-width="0.6"/>
<rect x="758.70" y="176.50" width="93.70" height="31.70" fill="#fff" stroke="#606060" stroke-width="0.65" />
<line x1="762.50" y1="193.20" x2="848.50" y2="193.20" stroke="#606060" stroke-width="0.65"/>
<path transform="translate(770.40,192.90) rotate(73.00)" d="M0,0 C2.79,0 4.32,-1.17 7.37,-1.30 L11.40,-1.30 C13.15,-1.30 13.15,1.30 11.40,1.30 L7.37,1.30 C4.32,1.17 2.79,0 0,0 M0,0 C-2.79,0 -4.32,-1.17 -7.37,-1.30 L-11.40,-1.30 C-13.15,-1.30 -13.15,1.30 -11.40,1.30 L-7.37,1.30 C-4.32,1.17 -2.79,0 0,0" fill="none" stroke="#4a4a4a" stroke-width="0.6"/>
<path transform="translate(780.90,192.90) rotate(90.00)" d="M0,0 C2.79,0 4.32,-1.17 7.37,-1.30 L11.40,-1.30 C13.15,-1.30 13.15,1.30 11.40,1.30 L7.37,1.30 C4.32,1.17 2.79,0 0,0 M0,0 C-2.79,0 -4.32,-1.17 -7.37,-1.30 L-11.40,-1.30 C-13.15,-1.30 -13.15,1.30 -11.40,1.30 L-7.37,1.30 C-4.32,1.17 -2.79,0 0,0" fill="none" stroke="#4a4a4a" stroke-width="0.6"/>
<path transform="translate(787.60,192.90) rotate(90.00)" d="M0,0 C2.79,0 4.32,-1.17 7.37,-1.30 L11.40,-1.30 C13.15,-1.30 13.15,1.30 11.40,1.30 L7.37,1.30 C4.32,1.17 2.79,0 0,0 M0,0 C-2.79,0 -4.32,-1.17 -7.37,-1.30 L-11.40,-1.30 C-13.15,-1.30 -13.15,1.30 -11.40,1.30 L-7.37,1.30 C-4.32,1.17 -2.79,0 0,0" fill="none" stroke="#4a4a4a" stroke-width="0.6"/>
<path transform="translate(798.40,192.90) rotate(73.00)" d="M0,0 C2.79,0 4.32,-1.17 7.37,-1.30 L11.40,-1.30 C13.15,-1.30 13.15,1.30 11.40,1.30 L7.37,1.30 C4.32,1.17 2.79,0 0,0 M0,0 C-2.79,0 -4.32,-1.17 -7.37,-1.30 L-11.40,-1.30 C-13.15,-1.30 -13.15,1.30 -11.40,1.30 L-7.37,1.30 C-4.32,1.17 -2.79,0 0,0" fill="none" stroke="#4a4a4a" stroke-width="0.6"/>
<path transform="translate(808.00,192.90) rotate(90.00)" d="M0,0 C2.79,0 4.32,-1.17 7.37,-1.30 L11.40,-1.30 C13.15,-1.30 13.15,1.30 11.40,1.30 L7.37,1.30 C4.32,1.17 2.79,0 0,0 M0,0 C-2.79,0 -4.32,-1.17 -7.37,-1.30 L-11.40,-1.30 C-13.15,-1.30 -13.15,1.30 -11.40,1.30 L-7.37,1.30 C-4.32,1.17 -2.79,0 0,0" fill="none" stroke="#4a4a4a" stroke-width="0.6"/>
<path transform="translate(814.60,192.90) rotate(90.00)" d="M0,0 C2.79,0 4.32,-1.17 7.37,-1.30 L11.40,-1.30 C13.15,-1.30 13.15,1.30 11.40,1.30 L7.37,1.30 C4.32,1.17 2.79,0 0,0 M0,0 C-2.79,0 -4.32,-1.17 -7.37,-1.30 L-11.40,-1.30 C-13.15,-1.30 -13.15,1.30 -11.40,1.30 L-7.37,1.30 C-4.32,1.17 -2.79,0 0,0" fill="none" stroke="#4a4a4a" stroke-width="0.6"/>
<path transform="translate(821.50,192.90) rotate(90.00)" d="M0,0 C2.79,0 4.32,-1.17 7.37,-1.30 L11.40,-1.30 C13.15,-1.30 13.15,1.30 11.40,1.30 L7.37,1.30 C4.32,1.17 2.79,0 0,0 M0,0 C-2.79,0 -4.32,-1.17 -7.37,-1.30 L-11.40,-1.30 C-13.15,-1.30 -13.15,1.30 -11.40,1.30 L-7.37,1.30 C-4.32,1.17 -2.79,0 0,0" fill="none" stroke="#4a4a4a" stroke-width="0.6"/>
<path transform="translate(832.20,192.90) rotate(73.00)" d="M0,0 C2.79,0 4.32,-1.17 7.37,-1.30 L11.40,-1.30 C13.15,-1.30 13.15,1.30 11.40,1.30 L7.37,1.30 C4.32,1.17 2.79,0 0,0 M0,0 C-2.79,0 -4.32,-1.17 -7.37,-1.30 L-11.40,-1.30 C-13.15,-1.30 -13.15,1.30 -11.40,1.30 L-7.37,1.30 C-4.32,1.17 -2.79,0 0,0" fill="none" stroke="#4a4a4a" stroke-width="0.6"/>
<path transform="translate(841.50,192.90) rotate(90.00)" d="M0,0 C2.79,0 4.32,-1.17 7.37,-1.30 L11.40,-1.30 C13.15,-1.30 13.15,1.30 11.40,1.30 L7.37,1.30 C4.32,1.17 2.79,0 0,0 M0,0 C-2.79,0 -4.32,-1.17 -7.37,-1.30 L-11.40,-1.30 C-13.15,-1.30 -13.15,1.30 -11.40,1.30 L-7.37,1.30 C-4.32,1.17 -2.79,0 0,0" fill="none" stroke="#4a4a4a" stroke-width="0.6"/>
<rect x="852.40" y="176.50" width="31.70" height="31.70" fill="#fff" stroke="#606060" stroke-width="0.65" />
<line x1="852.40" y1="176.50" x2="884.10" y2="208.20" stroke="#484848" stroke-width="0.60"/>
<line x1="852.40" y1="208.20" x2="884.10" y2="176.50" stroke="#484848" stroke-width="0.60"/>
<rect x="269.00" y="651.70" width="26.10" height="20.90" fill="#fff" stroke="#606060" stroke-width="0.65" />
<circle cx="284.50" cy="662.30" r="2.80" fill="none" stroke="#444" stroke-width="0.70"/>
<line x1="279.80" y1="662.30" x2="289.20" y2="662.30" stroke="#444" stroke-width="0.60"/>
<line x1="284.50" y1="657.60" x2="284.50" y2="667.00" stroke="#444" stroke-width="0.60"/>
<rect x="391.70" y="651.70" width="25.70" height="20.90" fill="#fff" stroke="#606060" stroke-width="0.65" />
<circle cx="402.80" cy="662.30" r="2.80" fill="none" stroke="#444" stroke-width="0.70"/>
<line x1="398.10" y1="662.30" x2="407.50" y2="662.30" stroke="#444" stroke-width="0.60"/>
<line x1="402.80" y1="657.60" x2="402.80" y2="667.00" stroke="#444" stroke-width="0.60"/>
<g transform="translate(295.10,672.50) scale(1,-1)">
<rect x="0.00" y="0.00" width="96.60" height="133.40" fill="#fff" stroke="#606060" stroke-width="0.65" />
<path d="M1.35,3 V132.10 H95.25 V3 Z" fill="none" stroke="#606060" stroke-width="0.60" />
<line x1="0.00" y1="3.00" x2="96.60" y2="3.00" stroke="#606060" stroke-width="0.55"/>
<path d="M9.00,9.00 Q26.95,11.31 44.90,9.00 Q42.39,20.55 44.90,32.10 Q26.95,29.79 9.00,32.10 Q11.51,20.55 9.00,9.00 Z" fill="#fff" stroke="#606060" stroke-width="0.65" />
<path d="M52.90,9.00 Q70.95,11.31 89.00,9.00 Q86.47,20.55 89.00,32.10 Q70.95,29.79 52.90,32.10 Q55.43,20.55 52.90,9.00 Z" fill="#fff" stroke="#606060" stroke-width="0.65" />
<path d="M1.8,38.1 C35,40 70,50 95.2,65.6 C86,68.5 81.5,74 80.2,82.6 C60,62 30,44 1.8,38.1 Z" fill="#fff" stroke="#555" stroke-width="0.65" />
</g>
<rect x="551.80" y="461.30" width="56.40" height="3.90" fill="#fff" stroke="#484848" stroke-width="0.85" />
<line x1="551.80" y1="463.20" x2="608.20" y2="463.20" stroke="#606060" stroke-width="0.50"/>
<line x1="555.50" y1="461.30" x2="555.50" y2="465.20" stroke="#484848" stroke-width="0.85"/>
<line x1="604.70" y1="461.30" x2="604.70" y2="465.20" stroke="#484848" stroke-width="0.85"/>
<rect x="602.40" y="465.20" width="2.50" height="49.30" fill="#fff" stroke="#484848" stroke-width="0.85" />
<line x1="603.65" y1="465.20" x2="603.65" y2="514.50" stroke="#606060" stroke-width="0.50"/>
<line x1="602.40" y1="507.00" x2="604.90" y2="507.00" stroke="#484848" stroke-width="0.85"/>
<path d="M551.9,465.2 A53.1,53.1 0 0 0 602.4,514.4" fill="none" stroke="#484848" stroke-width="0.85" />
<rect x="575.40" y="542.40" width="32.70" height="97.50" fill="#fff" stroke="#606060" stroke-width="0.65" />
<line x1="592.70" y1="547.00" x2="592.70" y2="635.30" stroke="#606060" stroke-width="0.65"/>
<path transform="translate(591.95,554.70) rotate(17.00)" d="M0,0 C2.86,0 4.42,-1.26 7.54,-1.40 L11.60,-1.40 C13.49,-1.40 13.49,1.40 11.60,1.40 L7.54,1.40 C4.42,1.26 2.86,0 0,0 M0,0 C-2.86,0 -4.42,-1.26 -7.54,-1.40 L-11.60,-1.40 C-13.49,-1.40 -13.49,1.40 -11.60,1.40 L-7.54,1.40 C-4.42,1.26 -2.86,0 0,0" fill="none" stroke="#4a4a4a" stroke-width="0.6"/>
<path transform="translate(591.95,566.10) rotate(0.00)" d="M0,0 C2.86,0 4.42,-1.26 7.54,-1.40 L11.60,-1.40 C13.49,-1.40 13.49,1.40 11.60,1.40 L7.54,1.40 C4.42,1.26 2.86,0 0,0 M0,0 C-2.86,0 -4.42,-1.26 -7.54,-1.40 L-11.60,-1.40 C-13.49,-1.40 -13.49,1.40 -11.60,1.40 L-7.54,1.40 C-4.42,1.26 -2.86,0 0,0" fill="none" stroke="#4a4a4a" stroke-width="0.6"/>
<path transform="translate(591.95,572.70) rotate(0.00)" d="M0,0 C2.86,0 4.42,-1.26 7.54,-1.40 L11.60,-1.40 C13.49,-1.40 13.49,1.40 11.60,1.40 L7.54,1.40 C4.42,1.26 2.86,0 0,0 M0,0 C-2.86,0 -4.42,-1.26 -7.54,-1.40 L-11.60,-1.40 C-13.49,-1.40 -13.49,1.40 -11.60,1.40 L-7.54,1.40 C-4.42,1.26 -2.86,0 0,0" fill="none" stroke="#4a4a4a" stroke-width="0.6"/>
<path transform="translate(591.95,583.70) rotate(17.00)" d="M0,0 C2.86,0 4.42,-1.26 7.54,-1.40 L11.60,-1.40 C13.49,-1.40 13.49,1.40 11.60,1.40 L7.54,1.40 C4.42,1.26 2.86,0 0,0 M0,0 C-2.86,0 -4.42,-1.26 -7.54,-1.40 L-11.60,-1.40 C-13.49,-1.40 -13.49,1.40 -11.60,1.40 L-7.54,1.40 C-4.42,1.26 -2.86,0 0,0" fill="none" stroke="#4a4a4a" stroke-width="0.6"/>
<path transform="translate(591.95,594.20) rotate(0.00)" d="M0,0 C2.86,0 4.42,-1.26 7.54,-1.40 L11.60,-1.40 C13.49,-1.40 13.49,1.40 11.60,1.40 L7.54,1.40 C4.42,1.26 2.86,0 0,0 M0,0 C-2.86,0 -4.42,-1.26 -7.54,-1.40 L-11.60,-1.40 C-13.49,-1.40 -13.49,1.40 -11.60,1.40 L-7.54,1.40 C-4.42,1.26 -2.86,0 0,0" fill="none" stroke="#4a4a4a" stroke-width="0.6"/>
<path transform="translate(591.95,600.80) rotate(0.00)" d="M0,0 C2.86,0 4.42,-1.26 7.54,-1.40 L11.60,-1.40 C13.49,-1.40 13.49,1.40 11.60,1.40 L7.54,1.40 C4.42,1.26 2.86,0 0,0 M0,0 C-2.86,0 -4.42,-1.26 -7.54,-1.40 L-11.60,-1.40 C-13.49,-1.40 -13.49,1.40 -11.60,1.40 L-7.54,1.40 C-4.42,1.26 -2.86,0 0,0" fill="none" stroke="#4a4a4a" stroke-width="0.6"/>
<path transform="translate(591.95,607.60) rotate(0.00)" d="M0,0 C2.86,0 4.42,-1.26 7.54,-1.40 L11.60,-1.40 C13.49,-1.40 13.49,1.40 11.60,1.40 L7.54,1.40 C4.42,1.26 2.86,0 0,0 M0,0 C-2.86,0 -4.42,-1.26 -7.54,-1.40 L-11.60,-1.40 C-13.49,-1.40 -13.49,1.40 -11.60,1.40 L-7.54,1.40 C-4.42,1.26 -2.86,0 0,0" fill="none" stroke="#4a4a4a" stroke-width="0.6"/>
<path transform="translate(591.95,618.80) rotate(17.00)" d="M0,0 C2.86,0 4.42,-1.26 7.54,-1.40 L11.60,-1.40 C13.49,-1.40 13.49,1.40 11.60,1.40 L7.54,1.40 C4.42,1.26 2.86,0 0,0 M0,0 C-2.86,0 -4.42,-1.26 -7.54,-1.40 L-11.60,-1.40 C-13.49,-1.40 -13.49,1.40 -11.60,1.40 L-7.54,1.40 C-4.42,1.26 -2.86,0 0,0" fill="none" stroke="#4a4a4a" stroke-width="0.6"/>
<path transform="translate(591.95,628.90) rotate(0.00)" d="M0,0 C2.86,0 4.42,-1.26 7.54,-1.40 L11.60,-1.40 C13.49,-1.40 13.49,1.40 11.60,1.40 L7.54,1.40 C4.42,1.26 2.86,0 0,0 M0,0 C-2.86,0 -4.42,-1.26 -7.54,-1.40 L-11.60,-1.40 C-13.49,-1.40 -13.49,1.40 -11.60,1.40 L-7.54,1.40 C-4.42,1.26 -2.86,0 0,0" fill="none" stroke="#4a4a4a" stroke-width="0.6"/>
<rect x="575.40" y="639.90" width="32.70" height="32.70" fill="#fff" stroke="#606060" stroke-width="0.65" />
<line x1="575.40" y1="639.90" x2="608.10" y2="672.60" stroke="#484848" stroke-width="0.60"/>
<line x1="575.40" y1="672.60" x2="608.10" y2="639.90" stroke="#484848" stroke-width="0.60"/>
<rect x="523.60" y="640.40" width="51.80" height="32.20" fill="#fff" stroke="#606060" stroke-width="0.65" />
<line x1="528.80" y1="655.50" x2="571.50" y2="655.50" stroke="#606060" stroke-width="0.65"/>
<path transform="translate(532.50,656.30) rotate(90.00)" d="M0,0 C2.79,0 4.32,-1.17 7.37,-1.30 L11.40,-1.30 C13.15,-1.30 13.15,1.30 11.40,1.30 L7.37,1.30 C4.32,1.17 2.79,0 0,0 M0,0 C-2.79,0 -4.32,-1.17 -7.37,-1.30 L-11.40,-1.30 C-13.15,-1.30 -13.15,1.30 -11.40,1.30 L-7.37,1.30 C-4.32,1.17 -2.79,0 0,0" fill="none" stroke="#4a4a4a" stroke-width="0.6"/>
<path transform="translate(540.50,656.30) rotate(90.00)" d="M0,0 C2.79,0 4.32,-1.17 7.37,-1.30 L11.40,-1.30 C13.15,-1.30 13.15,1.30 11.40,1.30 L7.37,1.30 C4.32,1.17 2.79,0 0,0 M0,0 C-2.79,0 -4.32,-1.17 -7.37,-1.30 L-11.40,-1.30 C-13.15,-1.30 -13.15,1.30 -11.40,1.30 L-7.37,1.30 C-4.32,1.17 -2.79,0 0,0" fill="none" stroke="#4a4a4a" stroke-width="0.6"/>
<path transform="translate(548.40,656.30) rotate(90.00)" d="M0,0 C2.79,0 4.32,-1.17 7.37,-1.30 L11.40,-1.30 C13.15,-1.30 13.15,1.30 11.40,1.30 L7.37,1.30 C4.32,1.17 2.79,0 0,0 M0,0 C-2.79,0 -4.32,-1.17 -7.37,-1.30 L-11.40,-1.30 C-13.15,-1.30 -13.15,1.30 -11.40,1.30 L-7.37,1.30 C-4.32,1.17 -2.79,0 0,0" fill="none" stroke="#4a4a4a" stroke-width="0.6"/>
<path transform="translate(556.40,656.30) rotate(90.00)" d="M0,0 C2.79,0 4.32,-1.17 7.37,-1.30 L11.40,-1.30 C13.15,-1.30 13.15,1.30 11.40,1.30 L7.37,1.30 C4.32,1.17 2.79,0 0,0 M0,0 C-2.79,0 -4.32,-1.17 -7.37,-1.30 L-11.40,-1.30 C-13.15,-1.30 -13.15,1.30 -11.40,1.30 L-7.37,1.30 C-4.32,1.17 -2.79,0 0,0" fill="none" stroke="#4a4a4a" stroke-width="0.6"/>
<path transform="translate(564.50,656.30) rotate(90.00)" d="M0,0 C2.79,0 4.32,-1.17 7.37,-1.30 L11.40,-1.30 C13.15,-1.30 13.15,1.30 11.40,1.30 L7.37,1.30 C4.32,1.17 2.79,0 0,0 M0,0 C-2.79,0 -4.32,-1.17 -7.37,-1.30 L-11.40,-1.30 C-13.15,-1.30 -13.15,1.30 -11.40,1.30 L-7.37,1.30 C-4.32,1.17 -2.79,0 0,0" fill="none" stroke="#4a4a4a" stroke-width="0.6"/>
<g transform="translate(478.4,626.9) rotate(40)">
<path d="M-12.3,-9 V7 Q-12.3,13.5 -5.5,13.5 H5.5 Q12.3,13.5 12.3,7 V-9 Z" fill="#fff" stroke="#555" stroke-width="0.65" />
<path d="M-10.4,-8.5 V6.5 Q-10.4,11.6 -5,11.6" fill="none" stroke="#606060" stroke-width="0.50" />
<path d="M10.4,-8.5 V6.5 Q10.4,11.6 5,11.6" fill="none" stroke="#606060" stroke-width="0.50" />
<rect x="-12.50" y="-11.60" width="25.00" height="3.00" rx="1.50" fill="#fff" stroke="#555" stroke-width="0.65" />
</g>
<rect x="428.40" y="640.40" width="95.20" height="32.20" fill="#fff" stroke="#606060" stroke-width="0.65" />
<rect x="467.10" y="645.30" width="18.70" height="7.50" rx="1.30" fill="#3a3a3a" />
<rect x="469.50" y="646.80" width="4.00" height="1.10" fill="#ddd" />
<circle cx="463.60" cy="650.10" r="1.10" fill="none" stroke="#555" stroke-width="0.50"/>
<circle cx="476.50" cy="665.20" r="6.00" fill="#fff" stroke="#444" stroke-width="0.80"/>
<rect x="460.00" y="661.00" width="33.20" height="2.40" rx="1.20" fill="#fff" stroke="#333" stroke-width="0.80" />
<rect x="475.30" y="663.80" width="2.60" height="3.20" fill="none" stroke="#444" stroke-width="0.60" />
<rect x="767.30" y="464.80" width="116.70" height="40.00" fill="#fff" stroke="#606060" stroke-width="0.65" />
<line x1="772.10" y1="485.30" x2="879.00" y2="485.30" stroke="#606060" stroke-width="0.65"/>
<path transform="translate(781.90,485.00) rotate(72.00)" d="M0,0 C3.44,0 5.32,-1.26 9.08,-1.40 L14.25,-1.40 C16.14,-1.40 16.14,1.40 14.25,1.40 L9.08,1.40 C5.32,1.26 3.44,0 0,0 M0,0 C-3.44,0 -5.32,-1.26 -9.08,-1.40 L-14.25,-1.40 C-16.14,-1.40 -16.14,1.40 -14.25,1.40 L-9.08,1.40 C-5.32,1.26 -3.44,0 0,0" fill="none" stroke="#4a4a4a" stroke-width="0.6"/>
<path transform="translate(795.00,485.00) rotate(90.00)" d="M0,0 C3.44,0 5.32,-1.26 9.08,-1.40 L14.25,-1.40 C16.14,-1.40 16.14,1.40 14.25,1.40 L9.08,1.40 C5.32,1.26 3.44,0 0,0 M0,0 C-3.44,0 -5.32,-1.26 -9.08,-1.40 L-14.25,-1.40 C-16.14,-1.40 -16.14,1.40 -14.25,1.40 L-9.08,1.40 C-5.32,1.26 -3.44,0 0,0" fill="none" stroke="#4a4a4a" stroke-width="0.6"/>
<path transform="translate(803.60,485.00) rotate(90.00)" d="M0,0 C3.44,0 5.32,-1.26 9.08,-1.40 L14.25,-1.40 C16.14,-1.40 16.14,1.40 14.25,1.40 L9.08,1.40 C5.32,1.26 3.44,0 0,0 M0,0 C-3.44,0 -5.32,-1.26 -9.08,-1.40 L-14.25,-1.40 C-16.14,-1.40 -16.14,1.40 -14.25,1.40 L-9.08,1.40 C-5.32,1.26 -3.44,0 0,0" fill="none" stroke="#4a4a4a" stroke-width="0.6"/>
<path transform="translate(816.90,485.00) rotate(72.00)" d="M0,0 C3.44,0 5.32,-1.26 9.08,-1.40 L14.25,-1.40 C16.14,-1.40 16.14,1.40 14.25,1.40 L9.08,1.40 C5.32,1.26 3.44,0 0,0 M0,0 C-3.44,0 -5.32,-1.26 -9.08,-1.40 L-14.25,-1.40 C-16.14,-1.40 -16.14,1.40 -14.25,1.40 L-9.08,1.40 C-5.32,1.26 -3.44,0 0,0" fill="none" stroke="#4a4a4a" stroke-width="0.6"/>
<path transform="translate(828.40,485.00) rotate(90.00)" d="M0,0 C3.44,0 5.32,-1.26 9.08,-1.40 L14.25,-1.40 C16.14,-1.40 16.14,1.40 14.25,1.40 L9.08,1.40 C5.32,1.26 3.44,0 0,0 M0,0 C-3.44,0 -5.32,-1.26 -9.08,-1.40 L-14.25,-1.40 C-16.14,-1.40 -16.14,1.40 -14.25,1.40 L-9.08,1.40 C-5.32,1.26 -3.44,0 0,0" fill="none" stroke="#4a4a4a" stroke-width="0.6"/>
<path transform="translate(836.80,485.00) rotate(90.00)" d="M0,0 C3.44,0 5.32,-1.26 9.08,-1.40 L14.25,-1.40 C16.14,-1.40 16.14,1.40 14.25,1.40 L9.08,1.40 C5.32,1.26 3.44,0 0,0 M0,0 C-3.44,0 -5.32,-1.26 -9.08,-1.40 L-14.25,-1.40 C-16.14,-1.40 -16.14,1.40 -14.25,1.40 L-9.08,1.40 C-5.32,1.26 -3.44,0 0,0" fill="none" stroke="#4a4a4a" stroke-width="0.6"/>
<path transform="translate(845.20,485.00) rotate(90.00)" d="M0,0 C3.44,0 5.32,-1.26 9.08,-1.40 L14.25,-1.40 C16.14,-1.40 16.14,1.40 14.25,1.40 L9.08,1.40 C5.32,1.26 3.44,0 0,0 M0,0 C-3.44,0 -5.32,-1.26 -9.08,-1.40 L-14.25,-1.40 C-16.14,-1.40 -16.14,1.40 -14.25,1.40 L-9.08,1.40 C-5.32,1.26 -3.44,0 0,0" fill="none" stroke="#4a4a4a" stroke-width="0.6"/>
<path transform="translate(858.90,485.00) rotate(72.00)" d="M0,0 C3.44,0 5.32,-1.26 9.08,-1.40 L14.25,-1.40 C16.14,-1.40 16.14,1.40 14.25,1.40 L9.08,1.40 C5.32,1.26 3.44,0 0,0 M0,0 C-3.44,0 -5.32,-1.26 -9.08,-1.40 L-14.25,-1.40 C-16.14,-1.40 -16.14,1.40 -14.25,1.40 L-9.08,1.40 C-5.32,1.26 -3.44,0 0,0" fill="none" stroke="#4a4a4a" stroke-width="0.6"/>
<path transform="translate(870.40,485.00) rotate(90.00)" d="M0,0 C3.44,0 5.32,-1.26 9.08,-1.40 L14.25,-1.40 C16.14,-1.40 16.14,1.40 14.25,1.40 L9.08,1.40 C5.32,1.26 3.44,0 0,0 M0,0 C-3.44,0 -5.32,-1.26 -9.08,-1.40 L-14.25,-1.40 C-16.14,-1.40 -16.14,1.40 -14.25,1.40 L-9.08,1.40 C-5.32,1.26 -3.44,0 0,0" fill="none" stroke="#4a4a4a" stroke-width="0.6"/>
<rect x="863.10" y="514.30" width="20.70" height="26.00" fill="#fff" stroke="#606060" stroke-width="0.65" />
<circle cx="873.90" cy="529.30" r="2.80" fill="none" stroke="#444" stroke-width="0.70"/>
<line x1="869.20" y1="529.30" x2="878.60" y2="529.30" stroke="#444" stroke-width="0.60"/>
<line x1="873.90" y1="524.60" x2="873.90" y2="534.00" stroke="#444" stroke-width="0.60"/>
<rect x="863.10" y="636.70" width="20.70" height="25.60" fill="#fff" stroke="#606060" stroke-width="0.65" />
<circle cx="873.90" cy="647.70" r="2.80" fill="none" stroke="#444" stroke-width="0.70"/>
<line x1="869.20" y1="647.70" x2="878.60" y2="647.70" stroke="#444" stroke-width="0.60"/>
<line x1="873.90" y1="643.00" x2="873.90" y2="652.40" stroke="#444" stroke-width="0.60"/>
<g transform="translate(883.80,540.30) rotate(90)">
<rect x="0.00" y="0.00" width="96.40" height="133.40" fill="#fff" stroke="#606060" stroke-width="0.65" />
<path d="M1.35,3 V132.10 H95.05 V3 Z" fill="none" stroke="#606060" stroke-width="0.60" />
<line x1="0.00" y1="3.00" x2="96.40" y2="3.00" stroke="#606060" stroke-width="0.55"/>
<path d="M9.00,9.00 Q26.95,11.31 44.90,9.00 Q42.39,20.55 44.90,32.10 Q26.95,29.79 9.00,32.10 Q11.51,20.55 9.00,9.00 Z" fill="#fff" stroke="#606060" stroke-width="0.65" />
<path d="M52.90,9.00 Q70.95,11.31 89.00,9.00 Q86.47,20.55 89.00,32.10 Q70.95,29.79 52.90,32.10 Q55.43,20.55 52.90,9.00 Z" fill="#fff" stroke="#606060" stroke-width="0.65" />
<path d="M1.8,38.1 C35,40 70,50 95.2,65.6 C86,68.5 81.5,74 80.2,82.6 C60,62 30,44 1.8,38.1 Z" fill="#fff" stroke="#555" stroke-width="0.65" />
</g>
<rect x="615.80" y="540.00" width="24.80" height="103.70" fill="#fff" stroke="#606060" stroke-width="0.65" />
<g transform="translate(630.3,591.85) rotate(90)">
<rect x="-9.70" y="-7.80" width="19.40" height="20.40" rx="2.40" fill="#fff" stroke="#606060" stroke-width="0.65" />
<rect x="-45.90" y="-1.10" width="91.80" height="2.20" rx="1.10" fill="#fff" stroke="#4a4a4a" stroke-width="0.60" />
<line x1="-33.50" y1="1.15" x2="33.50" y2="1.15" stroke="#444" stroke-width="0.80"/>
<rect x="-5.30" y="2.20" width="10.60" height="8.20" rx="0.60" fill="#fff" stroke="#444" stroke-width="0.75" />
<rect x="-3.40" y="1.10" width="6.80" height="3.90" fill="#fff" stroke="#555" stroke-width="0.60" />
</g>
<rect x="667.80" y="672.70" width="150.20" height="26.90" fill="#fff" />
<line x1="667.80" y1="672.90" x2="818.00" y2="672.90" stroke="#999" stroke-width="1.00"/>
<line x1="667.80" y1="699.40" x2="818.00" y2="699.40" stroke="#999" stroke-width="1.00"/>
<line x1="667.80" y1="683.30" x2="818.00" y2="683.30" stroke="#555" stroke-width="0.70"/>
<line x1="667.80" y1="688.30" x2="818.00" y2="688.30" stroke="#555" stroke-width="0.70"/>
<line x1="670.00" y1="683.30" x2="670.00" y2="688.30" stroke="#555" stroke-width="0.70"/>
<line x1="674.50" y1="683.30" x2="674.50" y2="688.30" stroke="#555" stroke-width="0.70"/>
<line x1="734.50" y1="683.30" x2="734.50" y2="688.30" stroke="#555" stroke-width="0.70"/>
<line x1="738.50" y1="683.30" x2="738.50" y2="688.30" stroke="#555" stroke-width="0.70"/>
<line x1="766.40" y1="683.30" x2="766.40" y2="688.30" stroke="#555" stroke-width="0.70"/>
<line x1="769.60" y1="683.30" x2="769.60" y2="688.30" stroke="#555" stroke-width="0.70"/>
<line x1="814.40" y1="683.30" x2="814.40" y2="688.30" stroke="#555" stroke-width="0.70"/>
<line x1="816.80" y1="683.30" x2="816.80" y2="688.30" stroke="#555" stroke-width="0.70"/>
<rect x="670.50" y="635.30" width="3.00" height="53.00" fill="#fff" stroke="#606060" stroke-width="0.65" />
<line x1="672.00" y1="635.30" x2="672.00" y2="688.30" stroke="#606060" stroke-width="0.50"/>
<line x1="670.50" y1="642.50" x2="672.00" y2="642.50" stroke="#444" stroke-width="0.70"/>
<path d="M672.4,635.3 A61.5,61.5 0 0 1 734.5,683.3" fill="none" stroke="#555" stroke-width="0.70" />
<g opacity="0.999">
<text x="543.90" y="163.00" font-size="11.50" text-anchor="middle" fill="#4d4d4d" letter-spacing="0.00">Кухня</text>
<text x="543.90" y="176.50" font-size="11.50" text-anchor="middle" fill="#4d4d4d" letter-spacing="0.00">20.38</text>
<text x="738.70" y="165.70" font-size="11.50" text-anchor="middle" fill="#4d4d4d" letter-spacing="0.00">Прихожая</text>
<text x="738.70" y="178.90" font-size="11.50" text-anchor="middle" fill="#4d4d4d" letter-spacing="0.00">5.67</text>
<text x="715.40" y="296.40" font-size="11.50" text-anchor="middle" fill="#4d4d4d" letter-spacing="0.00">Коридор</text>
<text x="715.40" y="309.90" font-size="11.50" text-anchor="middle" fill="#4d4d4d" letter-spacing="0.00">7.38</text>
<text x="534.20" y="317.10" font-size="11.50" text-anchor="middle" fill="#4d4d4d" letter-spacing="0.00">С/У</text>
<text x="534.30" y="331.00" font-size="11.50" text-anchor="middle" fill="#4d4d4d" letter-spacing="0.20">4.37</text>
<text x="813.10" y="272.40" font-size="11.50" text-anchor="middle" fill="#4d4d4d" letter-spacing="0.00">С/У</text>
<text x="813.10" y="285.90" font-size="11.50" text-anchor="middle" fill="#4d4d4d" letter-spacing="0.00">2.15</text>
<text x="816.90" y="388.00" font-size="11.50" text-anchor="middle" fill="#4d4d4d" letter-spacing="0.00">С/У</text>
<text x="816.65" y="401.50" font-size="11.50" text-anchor="middle" fill="#4d4d4d" letter-spacing="-0.50">4.17</text>
<text x="441.00" y="414.60" font-size="11.50" text-anchor="middle" fill="#4d4d4d" letter-spacing="0.00">Жилая</text>
<text x="441.00" y="428.10" font-size="11.50" text-anchor="middle" fill="#4d4d4d" letter-spacing="0.00">комната</text>
<text x="440.93" y="441.60" font-size="11.50" text-anchor="middle" fill="#4d4d4d" letter-spacing="-0.15">13.57</text>
<text x="521.00" y="489.40" font-size="11.50" text-anchor="middle" fill="#4d4d4d" letter-spacing="0.00">Жилая</text>
<text x="521.00" y="502.90" font-size="11.50" text-anchor="middle" fill="#4d4d4d" letter-spacing="0.00">комната</text>
<text x="520.70" y="516.40" font-size="11.50" text-anchor="middle" fill="#4d4d4d" letter-spacing="-0.60">21.27</text>
<text x="712.60" y="488.80" font-size="11.50" text-anchor="middle" fill="#4d4d4d" letter-spacing="0.00">Жилая</text>
<text x="712.60" y="502.30" font-size="11.50" text-anchor="middle" fill="#4d4d4d" letter-spacing="0.00">комната</text>
<text x="712.45" y="515.80" font-size="11.50" text-anchor="middle" fill="#4d4d4d" letter-spacing="-0.30">13.91</text>
<text x="152.30" y="420.30" font-size="11.50" text-anchor="middle" fill="#4d4d4d" letter-spacing="0.00">Балкон</text>
<text x="152.45" y="433.90" font-size="11.50" text-anchor="middle" fill="#4d4d4d" letter-spacing="0.30">4.49</text>
<text x="152.20" y="447.50" font-size="11.50" text-anchor="middle" fill="#4d4d4d" letter-spacing="-0.20">(1.35)</text>
<text x="151.60" y="478.60" font-size="11.50" text-anchor="middle" fill="#4d4d4d" letter-spacing="0.00">Балкон</text>
<text x="151.60" y="492.20" font-size="11.50" text-anchor="middle" fill="#4d4d4d" letter-spacing="0.00">4.16</text>
<text x="151.50" y="505.80" font-size="11.50" text-anchor="middle" fill="#4d4d4d" letter-spacing="-0.20">(1.25)</text>
<text x="560.60" y="713.10" font-size="11.50" text-anchor="middle" fill="#4d4d4d" letter-spacing="0.00">Балкон</text>
<text x="560.60" y="726.70" font-size="11.50" text-anchor="middle" fill="#4d4d4d" letter-spacing="0.00">4.14</text>
<text x="560.50" y="740.30" font-size="11.50" text-anchor="middle" fill="#4d4d4d" letter-spacing="-0.20">(1.24)</text>
</g>
</svg>
</body></html>
